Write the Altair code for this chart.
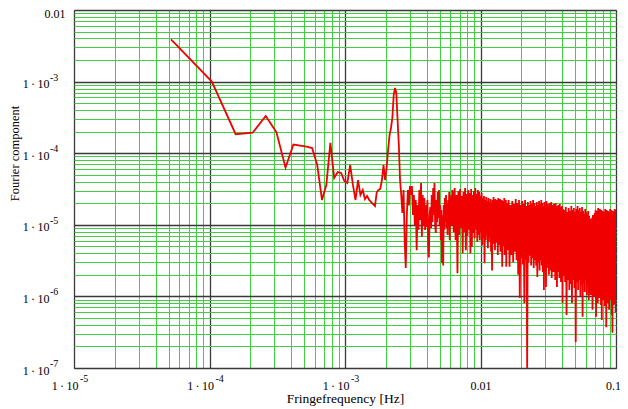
import altair as alt
import pandas as pd

# FFT bin width (Hz) of the spectrum
DF_HZ = 5.2e-5

# amplitudes for bins k = 1..59
low_amp = [3.9e-3, 1.0e-3, 1.84e-4, 1.93e-4, 3.31e-4, 1.96e-4, 6.27e-5, 1.32e-4, 1.28e-4, 1.24e-4,
           1.18e-4, 6.84e-5, 2.22e-5, 3.6e-5, 1.39e-4, 4.51e-5, 5.46e-5, 5.29e-5, 4.09e-5, 3.84e-5,
           6.84e-5, 3.6e-5, 2.22e-5, 4.22e-5, 2.61e-5, 3.06e-5, 2.29e-5, 2.52e-5, 2.22e-5, 2.08e-5,
           1.95e-5, 1.83e-5, 2.87e-5, 3.06e-5, 3.16e-5, 4.22e-5, 6.84e-5, 4.22e-5, 6.21e-5, 1.11e-4,
           1.79e-4, 2.25e-4, 3.10e-4, 6.50e-4, 8.15e-4, 6.93e-4, 2.91e-4, 1.30e-4, 4.22e-5, 2.61e-5,
           1.46e-5, 3.06e-5, 6.14e-6, 2.49e-6, 1.37e-5, 3.06e-5, 1.87e-5, 3.48e-5, 2.61e-5]

# bins k = 60..119
seg_a_amp = [3.48e-5, 1.37e-5, 2.61e-5, 9.9e-6, 2.22e-5, 4.4e-6, 1.89e-5, 8.5e-6, 3.06e-5, 1.17e-5,
             3.84e-5, 6.8e-6, 2.61e-5, 9.9e-6, 2.37e-5, 8.5e-6, 1.89e-5, 9.3e-6, 2.22e-5, 5.2e-6,
             3.5e-6, 1.37e-5, 1.77e-5, 9.0e-6, 2.61e-5, 1.09e-5, 3.27e-5, 1.37e-5, 3.84e-5, 9.9e-6,
             7.7e-6, 2.22e-5, 1.09e-5, 2.87e-5, 1.25e-5, 3.06e-5, 9.9e-6, 1.89e-5, 6.1e-6, 1.61e-5,
             2.9e-6, 1.37e-5, 2.7e-6, 1.89e-5, 8.5e-6, 2.37e-5, 1.09e-5, 2.61e-5, 9.0e-6, 2.01e-5,
             7.2e-6, 2.22e-5, 1.29e-5, 2.87e-5, 6.1e-6, 2.22e-5, 1.29e-5, 2.61e-5, 9.9e-6, 3.06e-5]

# bins k = 120..298 (every 2nd bin)
seg_b_amp = [2.87e-5, 7.9e-6, 3.27e-5, 6.1e-6, 2.61e-5, 2.1e-6, 2.97e-5, 7.2e-6, 3.16e-5, 9.0e-6,
             2.52e-5, 4.0e-6, 2.87e-5, 7.9e-6, 3.27e-5, 4.4e-6, 2.69e-5, 7.0e-6, 3.06e-5, 8.5e-6,
             2.78e-5, 4.0e-6, 3.16e-5, 4.9e-6, 2.61e-5, 7.7e-6, 2.97e-5, 6.5e-6, 3.27e-5, 8.5e-6,
             2.69e-5, 5.8e-6, 3.06e-5, 7.2e-6, 2.87e-5, 6.1e-6, 2.52e-5, 7.9e-6, 2.78e-5, 5.2e-6,
             2.37e-5, 6.5e-6, 2.52e-5, 2.9e-6, 2.22e-5, 6.1e-6, 2.44e-5, 7.2e-6, 2.15e-5, 4.7e-6,
             2.37e-5, 5.8e-6, 2.08e-5, 6.8e-6, 2.29e-5, 4.2e-6, 2.01e-5, 2.3e-6, 2.22e-5, 5.4e-6,
             2.44e-5, 6.5e-6, 2.15e-5, 4.4e-6, 2.29e-5, 5.6e-6, 2.01e-5, 6.8e-6, 2.22e-5, 3.8e-6,
             2.37e-5, 5.2e-6, 2.08e-5, 6.1e-6, 2.29e-5, 4.2e-6, 2.01e-5, 5.4e-6, 2.22e-5, 2.6e-6,
             1.95e-5, 5.1e-6, 2.15e-5, 6.1e-6, 2.37e-5, 3.8e-6, 2.01e-5, 4.9e-6, 2.22e-5, 2.6e-6]

# bins k = 300..795 (every 5th bin)
seg_c_amp = [2.01e-5, 4.4e-6, 2.22e-5, 2.6e-6, 1.89e-5, 3.8e-6, 2.15e-5, 3.0e-6, 1.95e-5, 4.2e-6,
             2.29e-5, 3.2e-6, 2.01e-5, 2.0e-6, 2.22e-5, 9.5e-7, 1.89e-5, 3.4e-6, 2.15e-5, 2.8e-6,
             1.95e-5, 8.1e-7, 2.22e-5, 3.2e-6, 1.83e-5, 1.0e-7, 2.08e-5, 3.0e-6, 1.89e-5, 3.7e-6,
             2.15e-5, 2.7e-6, 1.95e-5, 3.4e-6, 2.22e-5, 2.5e-6, 2.01e-5, 3.2e-6, 1.83e-5, 2.7e-6,
             2.08e-5, 1.87e-6, 1.89e-5, 3.0e-6, 2.15e-5, 2.3e-6, 1.95e-5, 3.2e-6, 2.22e-5, 2.7e-6,
             2.01e-5, 2.2e-6, 1.83e-5, 1.23e-6, 2.08e-5, 2.8e-6, 1.89e-5, 1.35e-6, 2.15e-5, 2.5e-6,
             1.95e-5, 3.0e-6, 1.77e-5, 2.0e-6, 2.01e-5, 2.7e-6, 1.83e-5, 2.3e-6, 2.08e-5, 1.81e-6,
             1.89e-5, 2.8e-6, 1.72e-5, 2.2e-6, 1.95e-5, 2.5e-6, 1.77e-5, 1.69e-6, 2.01e-5, 2.3e-6,
             1.83e-5, 1.35e-6, 1.66e-5, 2.2e-6, 1.89e-5, 2.7e-6, 1.72e-5, 1.81e-6, 1.95e-5, 2.3e-6,
             1.77e-5, 1.59e-6, 1.61e-5, 2.2e-6, 1.83e-5, 8.1e-7, 1.66e-5, 1.93e-6, 1.51e-5, 2.3e-6]

# bins k = 800..1920 (every 10th bin)
seg_d_amp = [1.61e-5, 1.59e-6, 1.77e-5, 5.5e-7, 1.51e-5, 1.69e-6, 1.72e-5, 1.23e-6, 1.56e-5, 1.49e-6,
             1.83e-5, 8.1e-7, 1.61e-5, 1.69e-6, 1.72e-5, 1.31e-6, 1.51e-5, 2.3e-7, 1.66e-5, 1.59e-6,
             1.83e-5, 1.23e-6, 1.61e-5, 1.69e-6, 1.72e-5, 1.01e-6, 1.51e-5, 1.44e-6, 1.77e-5, 5.2e-7,
             1.56e-5, 1.54e-6, 1.42e-5, 1.15e-6, 1.66e-5, 1.69e-6, 1.51e-5, 1.05e-6, 1.37e-5, 1.44e-6,
             1.56e-5, 8.9e-7, 1.33e-5, 1.54e-6, 1.21e-5, 1.05e-6, 1.09e-5, 1.31e-6, 1.25e-5, 6.5e-7,
             1.37e-5, 1.44e-6, 1.21e-5, 1.01e-6, 1.46e-5, 1.40e-6, 1.61e-5, 5.2e-7, 1.42e-5, 1.49e-6,
             1.56e-5, 8.1e-7, 1.72e-5, 1.31e-6, 1.51e-5, 9.5e-7, 1.66e-5, 1.44e-6, 1.46e-5, 7.6e-7,
             1.61e-5, 4.7e-7, 1.42e-5, 1.31e-6, 1.56e-5, 8.9e-7, 1.37e-5, 1.35e-6, 1.51e-5, 7.3e-7,
             1.66e-5, 1.23e-6, 1.46e-5, 3.7e-7, 1.61e-5, 1.15e-6, 1.42e-5, 8.1e-7, 1.56e-5, 1.31e-6,
             1.37e-5, 6.5e-7, 1.51e-5, 1.15e-6, 1.66e-5, 8.9e-7, 1.46e-5, 1.23e-6, 1.61e-5, 5.5e-7,
             1.42e-5, 3.1e-7, 1.56e-5, 1.15e-6, 1.37e-5, 7.6e-7, 1.51e-5, 1.23e-6, 1.66e-5, 8.9e-7,
             1.46e-5, 5.9e-7, 1.61e-5]

bins = (list(range(1, 60)) + list(range(60, 120)) + list(range(120, 300, 2))
        + list(range(300, 800, 5)) + list(range(800, 1921, 10)))
amps = low_amp + seg_a_amp + seg_b_amp + seg_c_amp + seg_d_amp

# tick labels: mantissa part on the axis, exponent written as a superscript
MANT = "1\u2009·\u200910"
x_major = [1e-5, 1e-4, 1e-3, 1e-2, 1e-1]
x_labels = [MANT, MANT, MANT, "0.01", "0.1"]
x_exp_vals = [1e-5, 1e-4, 1e-3]
x_exp_text = ["-5", "-4", "-3"]
y_major = [1e-7, 1e-6, 1e-5, 1e-4, 1e-3, 1e-2]
y_labels = [MANT, MANT, MANT, MANT, MANT, "0.01"]
y_exp_vals = [1e-7, 1e-6, 1e-5, 1e-4, 1e-3]
y_exp_text = ["-7", "-6", "-5", "-4", "-3"]
mantissas = [1, 2, 3, 4, 5, 6, 7, 8, 9]

df = pd.DataFrame({"f": [k * DF_HZ for k in bins], "a": amps, "i": list(range(len(bins)))})
x_exp_df = pd.DataFrame({"f": x_exp_vals, "t": x_exp_text})
y_exp_df = pd.DataFrame({"a": y_exp_vals, "t": y_exp_text})


def grid_values(majors):
    vals = []
    for d in majors[:-1]:
        vals += [m * d for m in mantissas]
    vals.append(majors[-1])
    return vals


def label_expr(vals, texts):
    expr = "''"
    for v, t in zip(reversed(vals), reversed(texts)):
        expr = f"abs(datum.value / {v!r} - 1) < 0.01 ? '{t}' : ({expr})"
    return expr


MAJOR = "abs(log(datum.value) / LN10 - round(log(datum.value) / LN10)) < 0.001"
grid_color = {"condition": {"test": MAJOR, "value": "#3a3a3a"}, "value": "#3fcf3f"}
grid_width = {"condition": {"test": MAJOR, "value": 1.3}, "value": 1}
SERIF = "'Liberation Serif', 'Times New Roman', 'DejaVu Serif', serif"
PLOT_W, PLOT_H = 542, 358

x_scale = alt.Scale(type="log", domain=[1e-5, 0.1], nice=False)
y_scale = alt.Scale(type="log", domain=[1e-7, 1e-2], nice=False)

x_axis = alt.Axis(values=grid_values(x_major), grid=True, gridColor=grid_color, gridWidth=grid_width,
                  ticks=False, domain=False, labelExpr=label_expr(x_major, x_labels),
                  labelOverlap=False, labelFlush=False, labelFont=SERIF, labelFontSize=12,
                  labelColor="#000000", labelPadding=12,
                  labelAlign={"condition": {"test": "datum.value < 0.005", "value": "right"},
                              "value": "center"},
                  labelOffset={"condition": [{"test": "datum.value < 0.005", "value": 4},
                                             {"test": "datum.value > 0.05", "value": -3}],
                               "value": 0},
                  title="Fringefrequency [Hz]", titleFont=SERIF, titleFontSize=13.5,
                  titleFontWeight="normal", titleColor="#000000", titleY=34,
                  titleBaseline="alphabetic")
y_axis = alt.Axis(values=grid_values(y_major), grid=True, gridColor=grid_color, gridWidth=grid_width,
                  ticks=False, domain=False, labelExpr=label_expr(y_major, y_labels),
                  labelOverlap=False, labelFlush=False, labelFont=SERIF, labelFontSize=12,
                  labelColor="#000000",
                  labelPadding={"condition": {"test": "datum.value > 0.005", "value": 9}, "value": 25},
                  labelOffset={"condition": {"test": "datum.value > 0.005", "value": 3}, "value": 2},
                  title="Fourier component", titleFont=SERIF, titleFontSize=12.5,
                  titleFontWeight="normal", titleColor="#000000", titleAngle=270,
                  titleX=-56, titleY=143, titleAlign="center", titleBaseline="alphabetic")

line = alt.Chart(df).mark_line(color="#f00000", strokeWidth=1.8, clip=True).encode(
    x=alt.X("f:Q", scale=x_scale, axis=x_axis),
    y=alt.Y("a:Q", scale=y_scale, axis=y_axis),
    order="i:Q",
)

x_exp = alt.Chart(x_exp_df).mark_text(align="left", baseline="middle", dx=6, dy=11,
                                      font=SERIF, fontSize=10, color="#000000").encode(
    x=alt.X("f:Q", scale=x_scale, axis=x_axis),
    y=alt.value(PLOT_H),
    text="t:N",
)

y_exp = alt.Chart(y_exp_df).mark_text(align="left", baseline="middle", dy=-4,
                                      font=SERIF, fontSize=10, color="#000000").encode(
    x=alt.value(-24),
    y=alt.Y("a:Q", scale=y_scale, axis=y_axis),
    text="t:N",
)

chart = alt.layer(line, x_exp, y_exp).properties(
    width=PLOT_W, height=PLOT_H,
    autosize=alt.AutoSizeParams(type="none"),
    padding={"left": 66, "top": 2, "right": 4, "bottom": 40},
).configure_view(stroke="#3a3a3a", strokeWidth=1)

chart.save("out.html", embed_options={"renderer": "svg", "actions": False})
